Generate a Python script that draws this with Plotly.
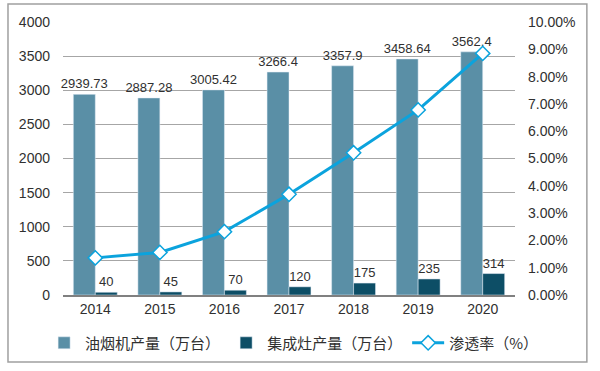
import plotly.graph_objects as go

years = ["2014", "2015", "2016", "2017", "2018", "2019", "2020"]
hood_output = [2939.73, 2887.28, 3005.42, 3266.4, 3357.9, 3458.64, 3562.4]
stove_output = [40, 45, 70, 120, 175, 235, 314]
penetration = [1.36, 1.56, 2.32, 3.69, 5.21, 6.78, 8.85]
hood_labels = ["2939.73", "2887.28", "3005.42", "3266.4", "3357.9", "3458.64", "3562.4"]
stove_labels = ["40", "45", "70", "120", "175", "235", "314"]

FONT = "Liberation Sans, Arial, Noto Sans CJK SC, sans-serif"
CJK = "Noto Sans CJK SC, Liberation Sans, sans-serif"

fig = go.Figure()
fig.add_trace(go.Bar(
    x=years, y=hood_output, name="油烟机产量（万台）",
    marker=dict(color="#5A8FA6"),
    text=hood_labels, textposition="outside", constraintext="none",
    textfont=dict(size=13, color="#303030", family=FONT),
    cliponaxis=False,
))
fig.add_trace(go.Bar(
    x=years, y=stove_output, name="集成灶产量（万台）",
    marker=dict(color="#0D4E66"),
    text=stove_labels, textposition="outside", constraintext="none",
    textfont=dict(size=13, color="#303030", family=FONT),
    cliponaxis=False,
))
fig.add_trace(go.Scatter(
    x=years, y=penetration, name="渗透率（%）", yaxis="y2",
    mode="lines+markers",
    line=dict(color="#0BA3DD", width=3),
    marker=dict(symbol="diamond", size=11, color="white",
                line=dict(color="#0BA3DD", width=1.5)),
    cliponaxis=False,
))

fig.update_layout(
    width=600, height=371,
    margin=dict(l=63, r=85, t=22, b=76, autoexpand=False),
    paper_bgcolor="white", plot_bgcolor="white",
    barmode="group", bargap=0.32, bargroupgap=0,
    font=dict(family=FONT, size=14, color="#303030"),
    xaxis=dict(
        type="category", showgrid=False, showline=True,
        linecolor="#808080", linewidth=1.5, ticks="",
        tickfont=dict(size=14, family=FONT, color="#303030"),
    ),
    yaxis=dict(
        range=[0, 4000], dtick=500, showgrid=True,
        gridcolor="#A6A6A6", gridwidth=1, zeroline=False,
        showline=False, ticks="", ticklabelstandoff=12,
        tickfont=dict(size=14, family=FONT, color="#303030"),
    ),
    yaxis2=dict(
        range=[0, 10], dtick=1, overlaying="y", side="right",
        showgrid=False, zeroline=False, showline=False, ticks="",
        tickformat=".2f", ticksuffix="%", ticklabelstandoff=12,
        tickfont=dict(size=14, family=FONT, color="#303030"),
    ),
    legend=dict(
        orientation="h", xref="paper", yref="paper",
        x=-0.044, xanchor="left", y=-0.176, yanchor="middle",
        font=dict(size=15, family=CJK, color="#303030"),
        itemwidth=32, traceorder="normal",
    ),
    showlegend=True,
    shapes=[dict(
        type="rect", xref="paper", yref="paper",
        x0=-0.1217, x1=1.159, y0=-0.245, y1=1.066,
        line=dict(color="#A0A0A0", width=1.5), fillcolor="rgba(0,0,0,0)",
        layer="below",
    )],
)

fig.write_html("out.html", config={"displayModeBar": False},
               post_script="document.body.style.margin='0';")
